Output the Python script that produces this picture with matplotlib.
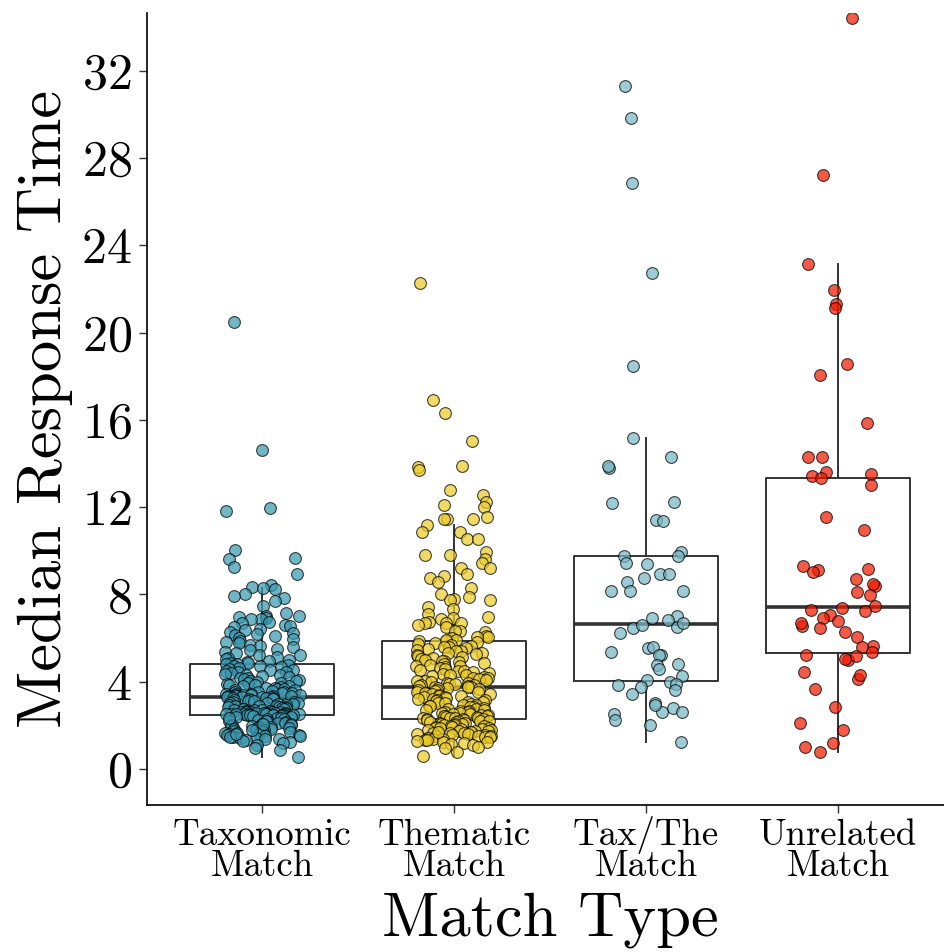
import numpy as np
import matplotlib
matplotlib.use("Agg")
import matplotlib.pyplot as plt
import matplotlib.transforms as mtransforms

# categories and colours (Zissou palette)
categories = [("Taxonomic", "Match"), ("Thematic", "Match"), ("Tax/The", "Match"), ("Unrelated", "Match")]
colors = ["#3B9AB2", "#EBCC2A", "#78B7C5", "#F21A00"]

# median response times per match type
taxonomic = [
    20.47, 14.64, 11.98, 11.81, 10.03, 9.66, 9.62, 9.26, 8.93, 8.45, 8.36, 8.28, 8.27, 8.01, 7.92,
    7.84, 7.72, 7.45, 7.15, 7.02, 6.99, 6.95, 6.90, 6.88, 6.87, 6.73, 6.68, 6.62, 6.55, 6.49,
    6.41, 6.38, 6.30, 6.25, 6.21, 6.12, 6.08, 6.00, 5.97, 5.88,
    5.81, 5.76, 5.68, 5.64, 5.57, 5.51, 5.46, 5.37, 5.33, 5.24, 5.21, 5.13, 5.09, 5.04, 5.01,
    4.95, 4.92, 4.88, 4.85, 4.83,
    4.79, 4.77, 4.73, 4.72, 4.66, 4.64, 4.58, 4.55, 4.53, 4.49, 4.44, 4.43, 4.39, 4.35, 4.31,
    4.30, 4.26, 4.21, 4.18, 4.16, 4.11, 4.09, 4.04, 4.02, 3.99, 3.96, 3.94, 3.89, 3.87, 3.85,
    3.80, 3.79, 3.76, 3.72, 3.71, 3.68, 3.65, 3.63, 3.61, 3.58, 3.55, 3.54, 3.51, 3.49, 3.47,
    3.46, 3.43, 3.42, 3.41, 3.39, 3.38, 3.37, 3.36, 3.35, 3.34, 3.33, 3.32, 3.31, 3.31, 3.30,
    3.29, 3.27, 3.26, 3.24, 3.21, 3.19, 3.18, 3.16, 3.12, 3.11, 3.09, 3.07, 3.04, 3.02, 3.01,
    2.98, 2.97, 2.95, 2.93, 2.90, 2.89, 2.88, 2.85, 2.84, 2.83, 2.80, 2.78, 2.77, 2.75, 2.74,
    2.72, 2.70, 2.69, 2.68, 2.66, 2.65, 2.63, 2.62, 2.61, 2.60, 2.59, 2.58, 2.57, 2.56, 2.56,
    2.55, 2.54, 2.53, 2.53, 2.52, 2.51, 2.51, 2.50, 2.50, 2.49, 2.49, 2.49, 2.48, 2.48, 2.48,
    2.46, 2.44, 2.41, 2.40, 2.37, 2.35, 2.32, 2.30, 2.27, 2.25, 2.22, 2.20, 2.18, 2.15, 2.13,
    2.10, 2.08, 2.05, 2.03, 2.01, 1.98, 1.96, 1.93, 1.91, 1.89, 1.86, 1.84, 1.82, 1.79, 1.77,
    1.75, 1.73, 1.70, 1.68, 1.66, 1.63, 1.61, 1.59, 1.56, 1.54, 1.52, 1.49, 1.47, 1.44, 1.41,
    1.38, 1.37, 1.33, 1.28, 1.25, 1.19, 1.11, 0.95, 0.87, 0.53, 1.46, 1.62, 1.81, 2.06, 2.33,
]
thematic = [
    22.28, 16.93, 16.31, 15.02, 13.89, 13.86, 13.72, 12.79, 12.55, 12.23, 12.10, 11.99, 11.55,
    11.48, 11.48, 11.45, 11.17, 10.88, 10.85, 10.56, 10.52, 9.94, 9.81, 9.81, 9.63, 9.46, 9.20,
    9.20, 8.93, 8.85, 8.75, 8.59, 8.30, 8.03, 7.88, 7.81, 7.75, 7.74, 7.43, 7.34, 7.10, 6.97,
    6.90, 6.87, 6.72, 6.70, 6.67, 6.67, 6.59, 6.52, 6.33, 6.31, 6.29, 6.08, 6.03, 6.03, 6.00,
    5.92, 5.88, 5.90,
    5.85, 5.81, 5.77, 5.74, 5.70, 5.66, 5.61, 5.58, 5.55, 5.50, 5.46, 5.42, 5.39, 5.33, 5.30,
    5.25, 5.21, 5.18, 5.13, 5.09, 5.05, 5.01, 4.97, 4.93, 4.90, 4.85, 4.81, 4.78, 4.74, 4.70,
    4.66, 4.62, 4.59, 4.55, 4.51, 4.47, 4.44, 4.40, 4.37, 4.33, 4.29, 4.26, 4.22, 4.18, 4.15,
    4.12, 4.08, 4.05, 4.02, 3.99, 3.96, 3.93, 3.90, 3.88, 3.85, 3.83, 3.81, 3.79, 3.78, 3.77,
    3.75, 3.72, 3.69, 3.66, 3.63, 3.60, 3.57, 3.54, 3.51, 3.48, 3.45, 3.42, 3.39, 3.36, 3.34,
    3.31, 3.28, 3.25, 3.22, 3.20, 3.17, 3.14, 3.12, 3.09, 3.06, 3.03, 3.01, 2.98, 2.95, 2.93,
    2.90, 2.88, 2.85, 2.82, 2.80, 2.77, 2.75, 2.72, 2.70, 2.67, 2.65, 2.62, 2.60, 2.58, 2.55,
    2.53, 2.51, 2.49, 2.47, 2.45, 2.43, 2.41, 2.39, 2.37, 2.36, 2.34, 2.33, 2.32, 2.31, 2.30,
    2.28, 2.26, 2.24, 2.22, 2.20, 2.18, 2.16, 2.14, 2.12, 2.10, 2.08, 2.06, 2.04, 2.02, 2.00,
    1.98, 1.96, 1.94, 1.92, 1.90, 1.88, 1.86, 1.84, 1.82, 1.80, 1.78, 1.76, 1.74, 1.72, 1.70,
    1.68, 1.66, 1.64, 1.63, 1.61, 1.59, 1.57, 1.55, 1.53, 1.51, 1.49, 1.47, 1.45, 1.43, 1.41,
    1.39, 1.37, 1.35, 1.32, 1.29, 1.26, 1.22, 1.18, 1.14, 1.09, 1.03, 0.95, 0.79, 0.61, 1.71,
]
tax_the = [
    31.30, 29.85, 26.85, 22.75, 18.45,
    15.18, 14.29, 13.78, 13.88, 12.20, 12.25, 11.39, 11.35, 9.96, 9.78, 9.75, 9.46, 9.38, 8.92,
    8.92, 8.58, 8.77, 8.14, 8.15, 8.15, 7.00, 6.91, 6.85, 6.51, 6.45, 6.70, 6.62, 6.25, 5.56,
    5.58, 5.24, 5.24, 5.36, 4.75, 4.81, 4.57, 4.24, 4.10, 4.00, 3.84, 3.91, 3.75, 3.63, 3.43,
    3.03, 2.79, 2.62, 2.94, 2.60, 2.52, 2.23, 2.02, 1.24,
]
unrelated = [
    34.40, 27.21, 23.16, 21.95, 21.29, 21.11, 18.58, 18.07, 15.87,
    14.28, 14.28, 13.60, 13.52, 13.45, 13.32, 13.00, 11.53, 10.96, 9.32, 9.15, 9.14, 9.03, 8.73,
    8.39, 8.48, 8.13, 7.96, 7.45, 7.40, 7.28, 7.23, 7.08, 6.90, 6.78, 6.55, 6.67, 6.47, 6.26,
    6.03, 5.66, 5.57, 5.37, 5.01, 5.19, 5.04, 5.22, 4.46, 4.13, 3.68, 4.29, 2.86, 2.12, 1.80,
    1.19, 1.00, 0.79,
]
yticks = [0, 4, 8, 12, 16, 20, 24, 28, 32]

plt.rcParams["font.family"] = ["cmr10", "DejaVu Serif"]
plt.rcParams["axes.formatter.use_mathtext"] = True

fig = plt.figure(figsize=(9.45, 9.52), dpi=100)
ax = fig.add_axes([147 / 945, 147 / 952, 806 / 945, 792 / 952])

groups = [taxonomic, thematic, tax_the, unrelated]
positions = np.arange(1, len(groups) + 1)

line_col = "#333333"
ax.boxplot(groups, positions=positions, widths=0.75, whis=1.5, showfliers=False,
           showcaps=False, manage_ticks=False,
           boxprops=dict(color=line_col, linewidth=1.4),
           whiskerprops=dict(color=line_col, linewidth=1.4),
           medianprops=dict(color=line_col, linewidth=2.6),
           zorder=2)

# horizontal jitter like geom_jitter(width = 0.2)
rng = np.random.default_rng(11)
for pos, vals, col in zip(positions, groups, colors):
    vals = np.asarray(vals)
    xs = pos + rng.uniform(-0.2, 0.2, len(vals))
    ax.scatter(xs, vals, s=72, facecolor=col, edgecolor="black", linewidth=0.8,
               alpha=0.72, zorder=3)

ax.set_xlim(0.4, 4.6)
ax.set_ylim(-1.65, 34.65)
ax.set_yticks(yticks)
ax.set_xticks(positions)
ax.set_xticklabels([])
ax.tick_params(axis="y", labelsize=36, length=6, width=1.0, color=line_col, pad=5)
ax.tick_params(axis="x", length=6, width=1.0, color=line_col)

# two-line category labels on shared baselines
base = mtransforms.blended_transform_factory(ax.transData, ax.transAxes)
for pos, (top, bottom) in zip(positions, categories):
    for txt, dy in ((top, -40), (bottom, -71)):
        tr = mtransforms.offset_copy(base, fig=fig, y=dy, units="dots")
        ax.text(pos, 0, txt, transform=tr, ha="center", va="baseline",
                fontsize=26.5, clip_on=False)

for side in ["top", "right"]:
    ax.spines[side].set_visible(False)
for side in ["left", "bottom"]:
    ax.spines[side].set_linewidth(1.2)
    ax.spines[side].set_color("black")

ax.set_xlabel("Match Type", fontsize=45, va="baseline")
ax.xaxis.set_label_coords(0.5, -130 / 792)
ax.set_ylabel("Median Response Time", fontsize=45, labelpad=6)

fig.savefig("out.png", dpi=100)
